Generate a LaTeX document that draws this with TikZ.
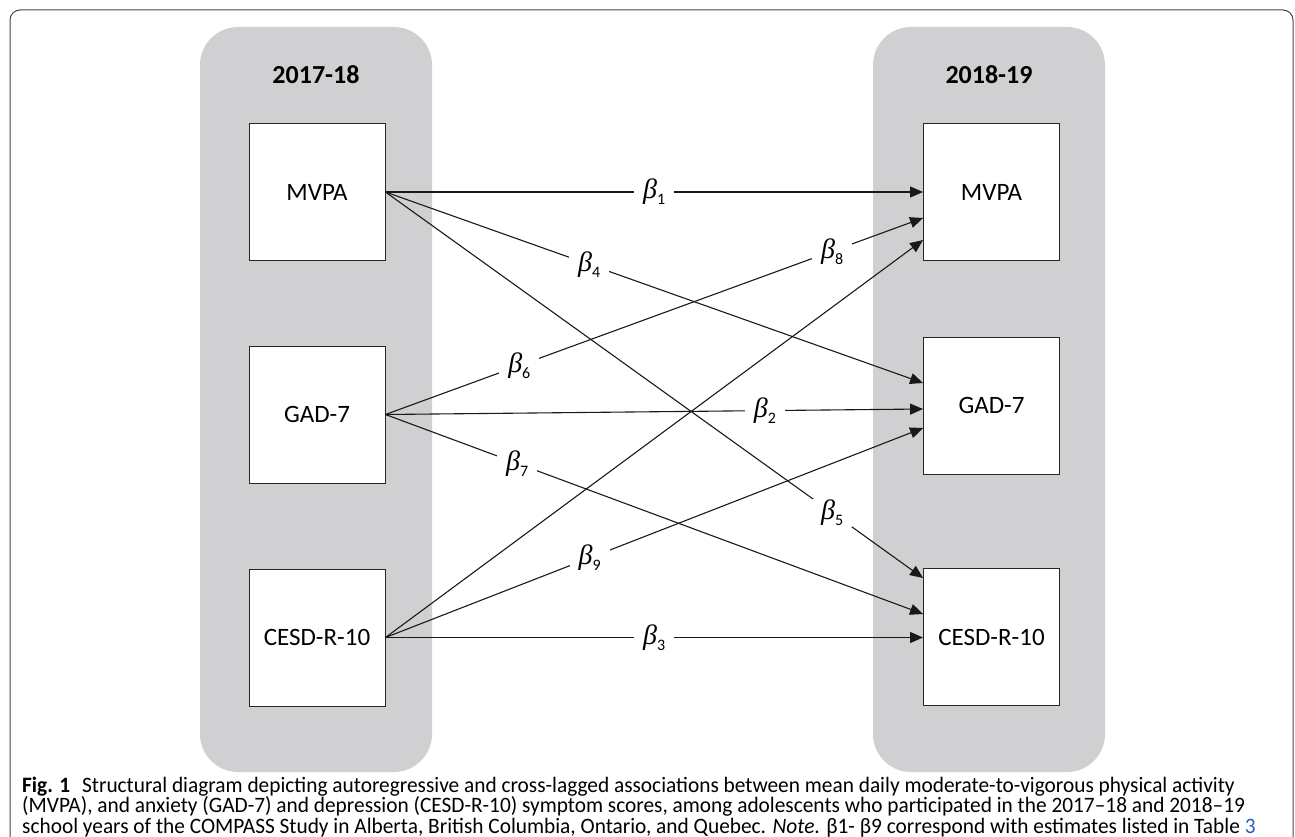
\documentclass[tikz,border=0pt]{standalone}
\usepackage{fontspec}
\setmainfont{Carlito}
\newfontfamily\capfont[FakeStretch=0.97]{Carlito}
\newfontfamily\betafont{Liberation Serif}
\usetikzlibrary{arrows.meta,calc}
\definecolor{panelgray}{RGB}{208,207,209}
\definecolor{framegray}{RGB}{70,70,70}
\definecolor{linkblue}{RGB}{40,90,200}
\newcommand{\bt}[1]{{\betafont\itshape β}\raisebox{-6pt}{\fontsize{16}{18}\selectfont #1}}
\tikzset{
  panel/.style={fill=panelgray, draw=none, rounded corners=38pt},
  varbox/.style={draw=black!85, fill=white, line width=0.9pt, minimum width=136pt, minimum height=137pt, font=\fontsize{25}{30}\selectfont},
  yearlabel/.style={font=\fontsize{26}{30}\selectfont\bfseries},
  path/.style={draw=black!90, line width=1.1pt, -{Triangle[length=13pt,width=11pt]}},
  beta/.style={fill=white, inner xsep=9pt, inner ysep=1pt, font=\fontsize{28}{30}\selectfont},
  capline/.style={anchor=base west, inner sep=0pt, font=\capfont\fontsize{22}{24}\selectfont}
}
\begin{document}
\begin{tikzpicture}[x=1pt,y=-1pt]
\useasboundingbox (0,0) rectangle (1295,837);
% outer frame (open at bottom)
\draw[framegray, line width=1pt, rounded corners=10pt] (10,840) -- (10,10) -- (1293,10) -- (1293,840);
% panels
\fill[panel] (200,27) rectangle (432,772);
\fill[panel] (873,27) rectangle (1105,772);
\node[yearlabel] (y1) at (316,75) {2017-18};
\node[yearlabel] (y2) at (989,75) {2018-19};
% boxes
\node[varbox] (mL) at (317,192) {MVPA};
\node[varbox] (gL) at (317,414.5) {GAD-7};
\node[varbox] (cL) at (317,637.5) {CESD-R-10};
\node[varbox] (mR) at (991.5,192) {MVPA};
\node[varbox] (gR) at (991.5,405.5) {GAD-7};
\node[varbox] (cR) at (991.5,637) {CESD-R-10};
% paths
\draw[path] (mL.east) -- (mL.east -| mR.west) node[beta,pos=0.5] {\bt{1}};
\draw[path] (mL.east) -- ([yshift=22.5pt]gR.west) node[beta,pos=0.379] {\bt{4}};
\draw[path] (mL.east) -- ([yshift=59pt]cR.west) node[beta,pos=0.831] {\bt{5}};
\draw[path] (gL.east) -- ([yshift=-26pt]mR.west) node[beta,pos=0.249] {\bt{6}} node[beta,pos=0.831] {\bt{8}};
\draw[path] (gL.east) -- ([yshift=-3.5pt]gR.west) node[beta,pos=0.706] {\bt{2}};
\draw[path] (gL.east) -- ([yshift=23pt]cR.west) node[beta,pos=0.245] {\bt{7}};
\draw[path] (cL.east) -- ([yshift=-48pt]mR.west);
\draw[path] (cL.east) -- ([yshift=-22.5pt]gR.west) node[beta,pos=0.38] {\bt{9}};
\draw[path] (cL.east) -- (cL.east -| cR.west) node[beta,pos=0.5] {\bt{3}};
% caption
\node[capline] (c1) at (22,792) {\textbf{Fig. 1}\hspace{7pt} Structural diagram depicting autoregressive and cross-lagged associations between mean daily moderate-to-vigorous physical activity};
\node[capline] (c2) at (22,812.5) {(MVPA), and anxiety (GAD-7) and depression (CESD-R-10) symptom scores, among adolescents who participated in the 2017–18 and 2018–19};
\node[capline] (c3) at (22,833) {school years of the COMPASS Study in Alberta, British Columbia, Ontario, and Quebec. \textit{Note}. β1- β9 correspond with estimates listed in Table {\color{linkblue}3}};
\end{tikzpicture}
\end{document}
